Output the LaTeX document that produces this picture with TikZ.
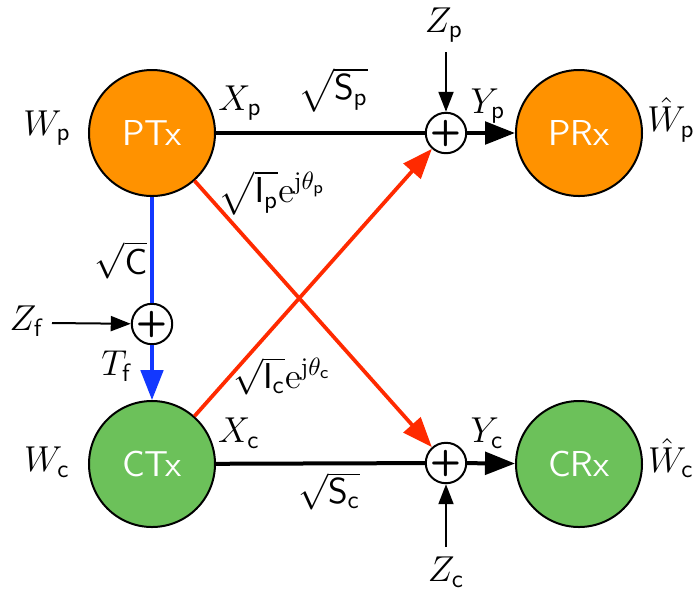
\documentclass[tikz,border=0pt]{standalone}
\usepackage{amsmath}
\usepackage{tikz}
\usetikzlibrary{arrows.meta, positioning}
\definecolor{txorange}{HTML}{FF9200}
\definecolor{rxgreen}{HTML}{6CC15A}
\definecolor{linkred}{HTML}{FF2A00}
\definecolor{linkblue}{HTML}{1238FF}

\begin{document}
\begin{tikzpicture}[x=0.4pt,y=-0.4pt,font=\Large,
    txnode/.style={circle,draw=black,line width=0.8pt,minimum size=50.4pt,inner sep=0pt,text=white,font=\Large\sffamily},
    sumnode/.style={circle,draw=black,fill=white,line width=0.8pt,minimum size=15.2pt,inner sep=0pt,font=\Large\sffamily\bfseries},
    sig/.style={inner sep=1pt},
    bigtip/.style={-{Triangle[length=12pt,width=9pt]}},
    smalltip/.style={-{Triangle[length=8pt,width=6pt]}}]
    \useasboundingbox (0,0) rectangle (694,589);
    % terminals and adders
    \node[txnode,fill=txorange] (ptx) at (152,133) {PTx};
    \node[txnode,fill=txorange] (prx) at (579,133) {PRx};
    \node[txnode,fill=rxgreen] (ctx) at (152,464) {CTx};
    \node[txnode,fill=rxgreen] (crx) at (579,464) {CRx};
    \node[sumnode] (addp) at (446,133) {+};
    \node[sumnode] (addc) at (446,463) {+};
    \node[sumnode] (addf) at (152,324) {+};
    \coordinate (zpin) at (446,52);
    \coordinate (zcin) at (446,547);
    \coordinate (zfin) at (52,323);
    % links
    \draw[line width=1.6pt] (ptx) -- (addp);
    \draw[line width=1.6pt,bigtip] (addp) -- (prx);
    \draw[line width=1.6pt] (ctx) -- (addc);
    \draw[line width=1.6pt,bigtip] (addc) -- (crx);
    \draw[line width=1.5pt,linkred,bigtip] (ptx) -- (addc);
    \draw[line width=1.5pt,linkred,bigtip] (ctx) -- (addp);
    \draw[line width=1.4pt,linkblue] (ptx) -- (addf);
    \draw[line width=1.4pt,linkblue,bigtip] (addf) -- (ctx);
    \draw[line width=0.8pt,smalltip] (zpin) -- (addp);
    \draw[line width=0.8pt,smalltip] (zcin) -- (addc);
    \draw[line width=0.8pt,smalltip] (zfin) -- (addf);
    % labels
    \node[sig] (wp) at (47,128) {$W_{\mathsf{p}}$};
    \node[sig] (xp) at (240,103) {$X_{\mathsf{p}}$};
    \node[sig] (sp) at (333,90) {$\sqrt{\mathsf{S}_{\mathsf{p}}}$};
    \node[sig] (ip) at (272,193) {$\sqrt{\mathsf{I}_{\mathsf{p}}}\mathrm{e}^{\mathrm{j}\theta_{\mathsf{p}}}$};
    \node[sig] (zp) at (444,25) {$Z_{\mathsf{p}}$};
    \node[sig] (yp) at (488,106) {$Y_{\mathsf{p}}$};
    \node[sig] (whp) at (671,120) {$\hat{W}_{\mathsf{p}}$};
    \node[sig] (sc) at (121,260) {$\sqrt{\mathsf{C}}$};
    \node[sig] (zf) at (27,321) {$Z_{\mathsf{f}}$};
    \node[sig] (tf) at (117,366) {$T_{\mathsf{f}}$};
    \node[sig] (ic) at (282,376) {$\sqrt{\mathsf{I}_{\mathsf{c}}}\mathrm{e}^{\mathrm{j}\theta_{\mathsf{c}}}$};
    \node[sig] (wc) at (47,462) {$W_{\mathsf{c}}$};
    \node[sig] (xc) at (239,433) {$X_{\mathsf{c}}$};
    \node[sig] (scc) at (329,491) {$\sqrt{\mathsf{S}_{\mathsf{c}}}$};
    \node[sig] (yc) at (487,433) {$Y_{\mathsf{c}}$};
    \node[sig] (whc) at (671,458) {$\hat{W}_{\mathsf{c}}$};
    \node[sig] (zc) at (446,572) {$Z_{\mathsf{c}}$};
\end{tikzpicture}
\end{document}
